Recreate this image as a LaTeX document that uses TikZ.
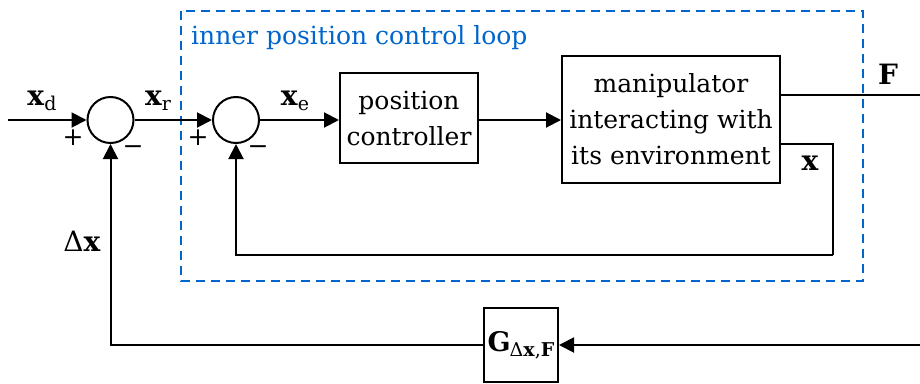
\documentclass[tikz,border=0pt]{standalone}
\usepackage{fontspec}
\setmainfont{DejaVu Serif}
\usetikzlibrary{arrows.meta}
\definecolor{loopblue}{RGB}{0,102,204}
% lowered subscript in text font
\newcommand{\lsub}[1]{\raisebox{-5pt}{\fontsize{19}{19}\selectfont #1}}
\begin{document}
\begin{tikzpicture}[x=1pt,y=-1pt,
  every node/.style={font=\fontsize{25}{36}\selectfont},
  wire/.style={line width=2pt},
  arr/.style={wire,-{Triangle[length=15pt,width=15pt]}},
  sumnode/.style={circle,draw,line width=2pt,minimum size=46pt,inner sep=0pt},
  block/.style={draw,line width=2pt,align=center,inner sep=0pt},
  lbl/.style={inner sep=0pt,font=\fontsize{28}{28}\selectfont},
  sgn/.style={inner sep=0pt,font=\fontsize{25}{25}\selectfont}]
\useasboundingbox (0,0) rectangle (920,383);

% inner loop frame
\draw[loopblue,line width=1.8pt,dash pattern=on 9pt off 6pt] (181,11) rectangle (863,281);
\node[inner sep=0pt,anchor=base west,text=loopblue] (title) at (191,44) {inner position control loop};

% summing junctions and blocks
\node[sumnode] (s1) at (110.5,120) {};
\node[sumnode] (s2) at (236,120) {};
\node[block,minimum width=138pt,minimum height=90pt] (pc) at (409,118) {position\\controller};
\node[block,minimum width=218pt,minimum height=127pt] (pm) at (671,119.5) {manipulator\\interacting with\\its environment};
\node[block,minimum width=74pt,minimum height=74pt,font=\fontsize{27}{27}\selectfont] (g) at (521,345)
  {\textbf{G}\kern-1pt\lsub{Δ\textbf{x},\textbf{F}}};

% free ends and corners
\coordinate (in) at (8,120);
\coordinate (fout) at (920,95);
\coordinate (fbin) at (920,345);
\coordinate (xr) at (833,144);
\coordinate (xb) at (833,255);

% signal paths
\draw[arr] (in) -- (s1.west);
\draw[arr] (s1.east) -- (s2.west);
\draw[arr] (s2.east) -- (s2.east -| pc.west);
\draw[arr] (pc.east |- s2.east) -- (s2.east -| pm.west);
\draw[wire] ([yshift=24.5pt]pm.east) -- (fout);
\draw[wire] ([yshift=-24.5pt]pm.east) -- (xr) -- (xb);
\draw[arr] (xb) -| (s2.south);
\draw[arr] (fbin) -- (g.east);
\draw[arr] (g.west) -| (s1.south);

% signal labels
\node[lbl] (lxd) at (42,101) {\textbf{x}\lsub{d}};
\node[lbl] (lxr) at (158,101) {\textbf{x}\lsub{r}};
\node[lbl] (lxe) at (295,101) {\textbf{x}\lsub{e}};
\node[lbl] (lF) at (888,74) {\textbf{F}};
\node[lbl] (lx) at (810,163) {\textbf{x}};
\node[lbl] (ldx) at (82,241) {Δ\textbf{x}};

% signs
\node[sgn] (p1) at (73,138) {+};
\node[sgn] (m1) at (133,150) {−};
\node[sgn] (p2) at (198,138) {+};
\node[sgn] (m2) at (258,150) {−};
\end{tikzpicture}
\end{document}
